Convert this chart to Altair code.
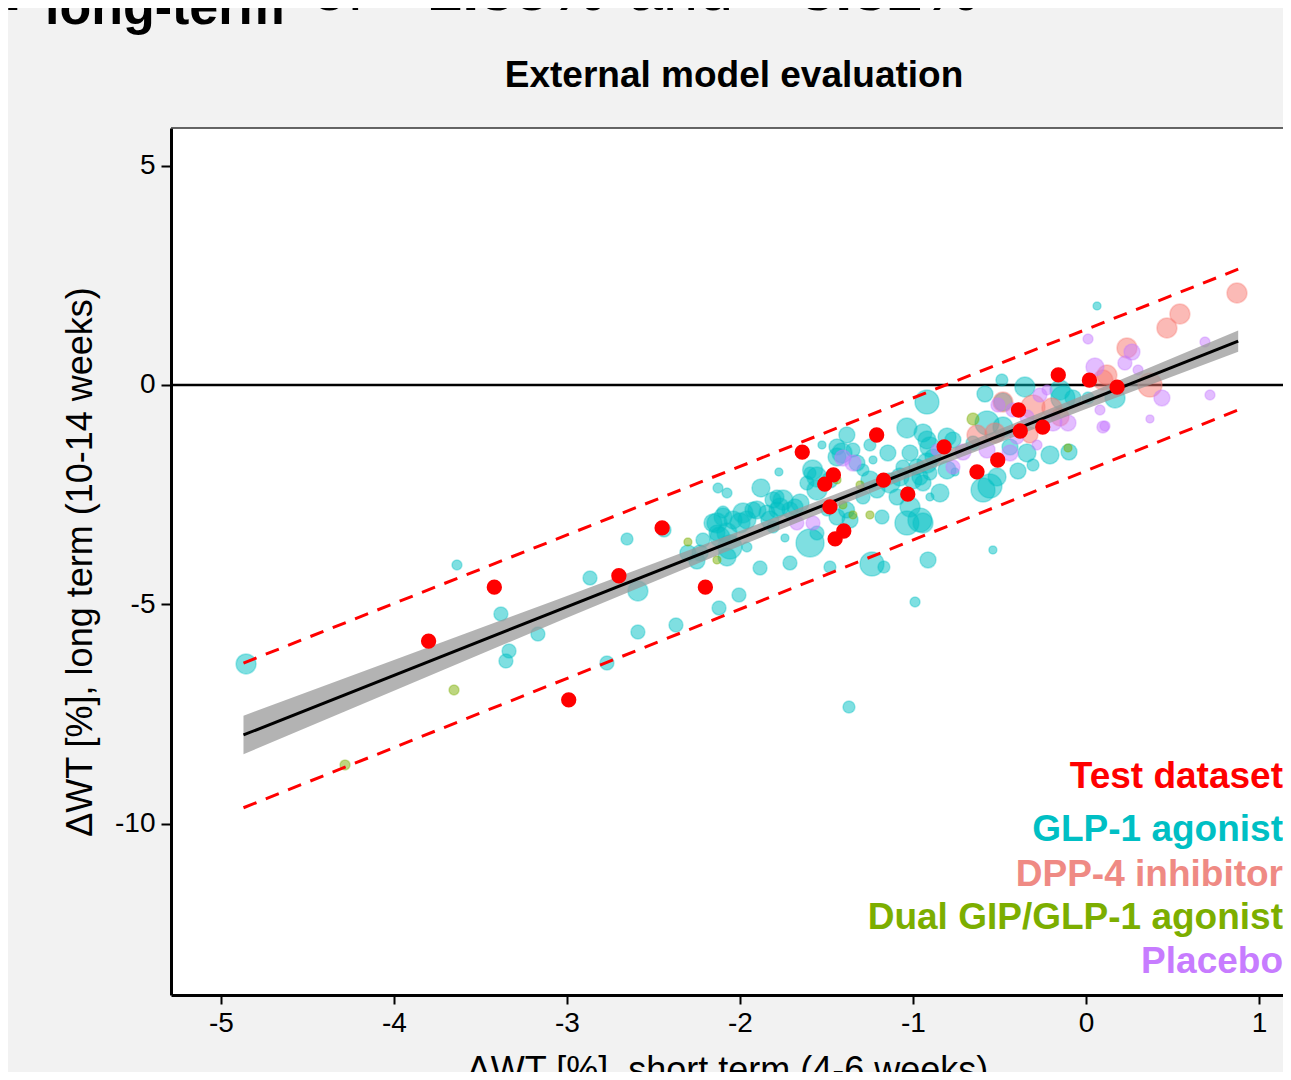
import altair as alt
import pandas as pd

# ---------------- data ----------------
# Test dataset (red, solid)
test_x = [-3.80, -3.42, -2.99, -2.70, -2.45, -2.20, -1.64, -1.51, -1.46, -1.48, -1.45, -1.40,
          -1.21, -1.17, -1.03, -0.82, -0.63, -0.51, -0.39, -0.38, -0.25, -0.16, 0.02, 0.18]
test_y = [-5.84, -4.61, -7.18, -4.35, -3.26, -4.61, -1.53, -2.26, -2.05, -2.78, -3.51, -3.33,
          -1.14, -2.17, -2.49, -1.41, -1.98, -1.71, -0.57, -1.05, -0.96, 0.23, 0.11, -0.05]

# GLP-1 agonist
glp_x = [-4.855, -3.636, -3.382, -3.335, -3.353, -3.168, -2.867, -2.769, -2.653, -2.590,
         -2.590, -2.439, -2.370, -2.121, -2.006, -2.127, -2.075, -1.879, -1.775, -1.370,
         -0.988, -0.538, 0.064, -1.480, -1.237, -1.168, -0.913, -0.919, -0.584, -0.353,
         0.168, -0.098, -0.208, -0.393, -0.555, -0.514,
         -1.526, -1.382, -1.439, -1.410, -1.347, -1.249, -1.231, -1.145, -1.035, -1.017,
         -0.942, -0.902, -0.977, -1.058, -1.595, -1.555, -1.613, -1.555, -1.480, -1.324,
         -1.289, -1.249, -1.208, -1.289, -1.133, -1.092, -1.017, -0.960, -1.035, -0.942,
         -0.902, -1.179, -1.364, -1.439, -1.497, -1.555, -1.595, -1.740, -1.711, -1.653,
         -1.751, -1.786, -1.827, -1.809, -1.902, -1.983, -2.040, -2.098, -2.133, -2.075,
         -2.133, -2.058, -1.960, -2.214, -2.231, -2.075, -1.884, -1.711,
         -1.439, -0.919, -0.803, -0.884, -1.075, -1.000, -0.902, -0.803, -0.844, -0.942,
         -1.580, -1.682, -1.769, -1.809, -1.844, -1.925, -1.960, -2.156, -2.116, -2.098,
         -1.786, -1.384, -2.249, -2.301, -0.757, -2.000,
         -0.486, -0.480, -0.150, -0.133, -0.769, -0.653, -0.572, -0.480, -0.439, -0.341,
         -0.306, -0.595, -0.919, -0.960, -0.075, 0.012]
glp_y = [-6.361, -4.104, -5.221, -6.065, -6.293, -5.680, -4.400, -6.339, -3.511, -4.697,
         -5.632, -3.306, -5.472, -5.084, -4.788, -2.348, -2.462, -2.348, -1.984, -7.341,
         -4.948, -3.762, 1.801, -4.150, -4.081, -4.150, -3.990, -0.388, -0.205, -0.046,
         -0.296, -1.528, -1.596, -1.961, -2.303, -2.098,
         -1.368, -1.140, -1.414, -1.550, -1.482, -1.368, -1.710, -1.550, -0.980, -1.550,
         -1.094, -1.414, -1.870, -1.870, -2.006, -2.098, -2.234, -2.394, -2.166, -1.778,
         -1.938, -2.166, -2.394, -2.554, -2.234, -2.554, -2.782, -3.078, -3.146, -3.146,
         -2.554, -3.010, -3.078, -3.010, -2.850, -3.374, -3.602, -3.488, -2.850, -2.690,
         -2.622, -2.850, -3.078, -3.238, -2.850, -2.918, -3.078, -3.010, -3.146, -3.374,
         -3.374, -3.694, -3.694, -3.534, -3.830, -3.922, -4.172, -4.058,
         -1.642, -1.254, -1.186, -1.642, -2.098, -2.166, -2.006, -1.938, -2.462, -2.234,
         -1.938, -2.782, -2.782, -2.622, -2.918, -2.850, -3.078, -3.146, -3.466, -2.896,
         -2.554, -2.850, -4.013, -3.830, -1.984, -3.146,
         0.114, -0.388, -0.114, -0.296, -1.254, -1.322, -0.866, -0.958, -1.414, -1.550,
         -1.824, -2.394, -1.778, -2.098, -0.296, -0.296]
glp_w = [10, 5, 7, 7, 7, 7, 7, 7, 6, 10,
         7, 7, 7, 7, 7, 5, 5, 9, 4, 6,
         5, 4, 4, 6, 12, 6, 8, 12, 8, 10,
         10, 8, 9, 8, 12, 9,
         4, 8, 8, 10, 7, 6, 4, 8, 10, 8,
         9, 10, 8, 7, 6, 10, 7, 10, 8, 8,
         6, 9, 8, 7, 10, 8, 10, 12, 12, 10,
         4, 7, 8, 8, 6, 7, 14, 4, 8, 9,
         10, 8, 9, 6, 9, 10, 9, 9, 10, 10,
         8, 12, 5, 7, 8, 9, 7, 7,
         9, 9, 9, 8, 9, 9, 7, 9, 9, 8,
         10, 8, 9, 8, 8, 8, 9, 9, 10, 6,
         7, 8, 8, 8, 4, 10,
         6, 9, 10, 12, 8, 7, 12, 10, 8, 9,
         6, 12, 10, 8, 8, 6]

# DPP-4 inhibitor
dpp_x = [0.873, 0.543, 0.468, 0.237, 0.121, 0.370, -0.480, -0.306, -0.197, -0.150,
         -0.526, -0.630, -0.324, 0.098]
dpp_y = [2.098, 1.619, 1.300, 0.844, 0.228, 0.000, -0.388, -0.502, -0.524, -0.730,
         -1.094, -1.140, -1.140, 0.114]
dpp_w = [10, 10, 10, 10, 10, 12, 10, 12, 10, 9, 10, 10, 8, 10]

# Dual GIP/GLP-1 agonist
dual_x = [-4.283, -3.653, -2.301, -2.133, -1.439, -1.306, -1.405, -1.347, -1.249, -0.653, -0.104]
dual_y = [-8.664, -6.954, -3.580, -3.990, -2.166, -2.280, -2.736, -2.964, -2.964, -0.775, -1.436]
dual_w = [5, 5, 4, 4, 4, 4, 4, 4, 4, 6, 4]

# Placebo
plc_x = [-1.405, -1.347, -1.671, -1.578, -0.861, -0.509, -0.422, -0.341, -0.266, -0.225,
         -0.104, -0.191, 0.081, 0.098, -0.711, -0.769, -0.572, -0.439, -0.399, -0.283,
         0.012, 0.266, 0.225, 0.052, 0.301, 0.688, 0.439, 0.717, 0.370, 0.110]
plc_y = [-1.664, -1.778, -3.146, -3.146, -1.482, -0.456, -0.570, -0.730, -0.228, -0.114,
         -0.866, -0.844, -0.570, -0.958, -1.528, -1.870, -1.482, -1.550, -1.186, -1.368,
         1.049, 0.752, 0.502, 0.410, 0.342, 0.980, -0.296, -0.228, -0.775, -0.935]
plc_w = [8, 8, 7, 7, 6, 7, 7, 7, 7, 5,
         8, 9, 5, 6, 8, 7, 8, 8, 7, 5,
         5, 8, 7, 9, 5, 5, 8, 5, 4, 5]

# regression fit, confidence band and prediction limits
fit_x = [-4.87, 0.88]
fit_y = [-7.98, 1.00]
pi_upper = [-6.34, 2.64]
pi_lower = [-9.64, -0.57]
band_x = [-4.87, -4.0, -3.0, -2.0, -1.0, 0.0, 0.88]
band_hi = [-7.54, -6.27, -4.81, -3.33, -1.81, -0.21, 1.24]
band_lo = [-8.42, -6.97, -5.31, -3.67, -2.07, -0.55, 0.76]

groups = ["GLP-1 agonist", "DPP-4 inhibitor", "Dual GIP/GLP-1 agonist", "Placebo"]
group_colors = ["#00BFC4", "#F8766D", "#7CAE00", "#C77CFF"]
legend_labels = ["Test dataset"] + groups
legend_colors = ["#FF0000", "#00BFC4", "#EF8A84", "#7CAE00", "#C77CFF"]

x_ticks = [-5, -4, -3, -2, -1, 0, 1]
y_ticks = [5, 0, -5, -10]

# ---------------- tables ----------------
pts = pd.concat([
    pd.DataFrame({"x": glp_x, "y": glp_y, "w": glp_w, "group": groups[0]}),
    pd.DataFrame({"x": dpp_x, "y": dpp_y, "w": dpp_w, "group": groups[1]}),
    pd.DataFrame({"x": dual_x, "y": dual_y, "w": dual_w, "group": groups[2]}),
    pd.DataFrame({"x": plc_x, "y": plc_y, "w": plc_w, "group": groups[3]}),
], ignore_index=True)
pts["order"] = range(len(pts))
test = pd.DataFrame({"x": test_x, "y": test_y})
fit = pd.DataFrame({"x": fit_x, "y": fit_y, "up": pi_upper, "lo": pi_lower})
band = pd.DataFrame({"x": band_x, "hi": band_hi, "lo": band_lo})

FONT = "Liberation Sans"
W, H = 1112, 867
xs = alt.Scale(domain=[-5.289, 1.139], nice=False, zero=False)
ys = alt.Scale(domain=[-13.91, 5.86], nice=False, zero=False)

XT = "ΔWT [%], short term (4-6 weeks)"
YT = "ΔWT [%], long term (10-14 weeks)"
xaxis = alt.Axis(
    values=x_ticks, title=XT, grid=False, labelExpr="'' + datum.value",
    domainColor="black", domainWidth=3, tickColor="black", tickWidth=2, tickSize=9,
    labelFontSize=28, labelColor="black", labelFont=FONT, labelPadding=5,
    titleFontSize=36, titleFont=FONT, titleFontWeight="normal", titleColor="black",
    titlePadding=16)
yaxis = alt.Axis(
    values=y_ticks, title=YT, grid=False, labelExpr="'' + datum.value",
    domainColor="black", domainWidth=3, tickColor="black", tickWidth=2, tickSize=10,
    labelFontSize=28, labelColor="black", labelFont=FONT, labelPadding=6,
    titleFontSize=36, titleFont=FONT, titleFontWeight="normal", titleColor="black",
    titlePadding=15)


def X(field):
    return alt.X(field, scale=xs, axis=xaxis, title=XT)


def Y(field):
    return alt.Y(field, scale=ys, axis=yaxis, title=YT)


points = alt.Chart(pts).mark_circle(fillOpacity=0.5, strokeOpacity=0.35, strokeWidth=1.5).encode(
    x=X("x:Q"),
    y=Y("y:Q"),
    color=alt.Color("group:N", scale=alt.Scale(domain=groups, range=group_colors), legend=None),
    stroke=alt.Stroke("group:N", scale=alt.Scale(domain=groups, range=group_colors), legend=None),
    size=alt.Size("w:Q", scale=alt.Scale(type="pow", exponent=2, domain=[0, 14], range=[0, 784]),
                  legend=None),
    order=alt.Order("order:Q"),
)

zero_line = alt.Chart(pd.DataFrame({"v": [0]})).mark_rule(color="black", strokeWidth=2.5).encode(
    y=Y("v:Q"))

top_border = alt.Chart(pd.DataFrame({"v": [0]})).mark_rule(color="#333333", strokeWidth=1.5).encode(
    x=alt.value(0), x2=alt.value(W), y=alt.value(0))

band_layer = alt.Chart(band).mark_area(color="#999999", opacity=0.75).encode(
    x=X("x:Q"), y=Y("lo:Q"), y2="hi:Q")

fit_line = alt.Chart(fit).mark_line(color="black", strokeWidth=3).encode(x=X("x:Q"), y=Y("y:Q"))
up_line = alt.Chart(fit).mark_line(color="#FF0000", strokeWidth=3, strokeDash=[14, 10]).encode(
    x=X("x:Q"), y=Y("up:Q"))
lo_line = alt.Chart(fit).mark_line(color="#FF0000", strokeWidth=3, strokeDash=[14, 10]).encode(
    x=X("x:Q"), y=Y("lo:Q"))

test_pts = alt.Chart(test).mark_circle(color="#FF0000", opacity=1, size=235).encode(
    x=X("x:Q"), y=Y("y:Q"))

# text legend (bottom right, right aligned)
legend_y = [649, 702, 747, 790, 834]
legend_layers = []
for lab, col, yy in zip(legend_labels, legend_colors, legend_y):
    legend_layers.append(
        alt.Chart(pd.DataFrame({"t": [lab]})).mark_text(
            align="right", baseline="middle", font=FONT, fontSize=37, fontWeight="bold", color=col
        ).encode(text="t:N", x=alt.value(1112), y=alt.value(yy)))

# panel title
title_layer = alt.Chart(pd.DataFrame({"t": ["External model evaluation"]})).mark_text(
    align="center", baseline="alphabetic", font=FONT, fontSize=37, fontWeight="bold", color="black"
).encode(text="t:N", x=alt.value(563), y=alt.value(-41))

# headline of the figure, cut off by the top edge
head = [
    ("ΔWT", -139, -118, 63, "bold", "right"),
    ("long-term", -126, -104, 52, "bold", "left"),
    ("of", 141, -118, 63, "normal", "left"),
    ("-1.35%", 235, -118, 63, "bold", "left"),
    ("and", 457, -118, 63, "normal", "left"),
    ("-3.32%", 608, -118, 63, "bold", "left"),
]
head_layers = []
for t, hx, hy, fs, fw, al in head:
    head_layers.append(
        alt.Chart(pd.DataFrame({"t": [t]})).mark_text(
            align=al, baseline="alphabetic", font=FONT, fontSize=fs, fontWeight=fw, color="black"
        ).encode(text="t:N", x=alt.value(hx), y=alt.value(hy)))

chart = alt.layer(
    zero_line, top_border, points, band_layer, fit_line, up_line, lo_line, test_pts,
    *legend_layers, title_layer, *head_layers
).properties(
    width=W, height=H,
    padding={"left": 163, "top": 120, "right": 0, "bottom": 77},
    autosize=alt.AutoSizeParams(type="none"),
    background="#f2f2f2",
).configure_view(fill="white", stroke=None)

chart.save("out.html", embed_options={"renderer": "svg", "actions": False})
